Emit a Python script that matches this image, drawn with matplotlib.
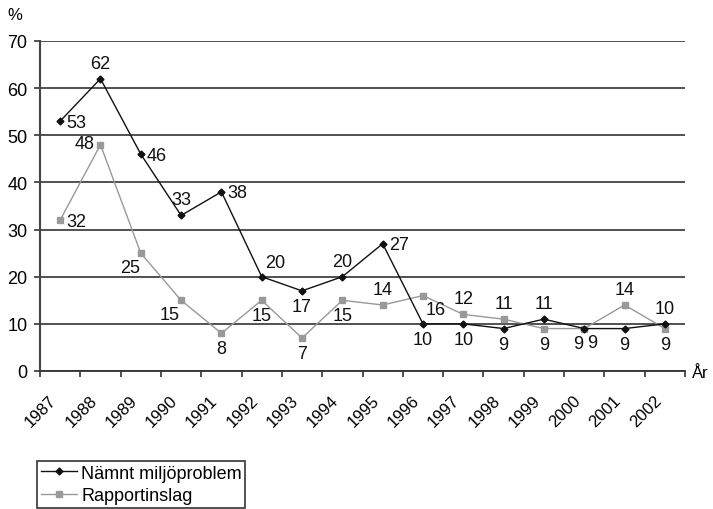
import numpy as np
import matplotlib.pyplot as plt
from matplotlib.transforms import ScaledTranslation

plt.rcParams['font.family'] = ['Liberation Sans', 'DejaVu Sans']

years = [str(y) for y in range(1987, 2003)]
miljo = [53, 62, 46, 33, 38, 20, 17, 20, 27, 10, 10, 9, 11, 9, 9, 10]
rapport = [32, 48, 25, 15, 8, 15, 7, 15, 14, 16, 12, 11, 9, 9, 14, 9]
y_ticks = [0, 10, 20, 30, 40, 50, 60, 70]

# where each value label sits relative to its marker
miljo_pos = ['r', 'a', 'r', 'a', 'r', 'ar', 'b', 'a', 'r', 'b', 'b', 'b', 'a', 'br', 'b', 'a']
rapport_pos = ['r', 'l', 'bl', 'bl', 'b', 'b', 'b', 'b', 'a', 'br', 'a', 'a', 'b', 'bl', 'a', 'b']

offsets = {
    'r': (6, -1, 'left', 'center'),
    'l': (-6, 1, 'right', 'center'),
    'a': (0, 7, 'center', 'bottom'),
    'b': (0, -7, 'center', 'top'),
    'ar': (3, 6, 'left', 'bottom'),
    'bl': (-1, -6, 'right', 'top'),
    'br': (3, -5, 'left', 'top'),
}

fig = plt.figure(figsize=(7.13, 5.10), dpi=100)
ax = fig.add_axes([40 / 713, 1 - 372 / 510, 645 / 713, 330 / 510])

x = np.arange(len(years)) + 0.5

ax.plot(x, miljo, color='#111111', lw=1.0, marker='D', ms=3.5,
        label='Nämnt miljöproblem', zorder=4)
ax.plot(x, rapport, color='#999999', lw=1.0, marker='s', ms=5,
        mfc='#999999', mec='#999999', label='Rapportinslag', zorder=3)


def put_labels(vals, pos):
    for xi, v, p in zip(x, vals, pos):
        dx, dy, ha, va = offsets[p]
        ax.annotate(str(v), (xi, v), xytext=(dx, dy), textcoords='offset pixels',
                    ha=ha, va=va, fontsize=13, color='#111111', zorder=5)


put_labels(miljo, miljo_pos)
put_labels(rapport, rapport_pos)

ax.set_xlim(0, len(years))
ax.set_ylim(0, 70)
ax.set_yticks(y_ticks)
ax.tick_params(axis='y', labelsize=13, length=4, width=1.2, color='#333333', pad=5)
ax.yaxis.grid(True, color='#222222', lw=1.1)
ax.set_axisbelow(True)

ax.set_xticks(x)
ax.set_xticklabels(years, rotation=45, ha='right', va='center',
                   rotation_mode='anchor', fontsize=12)
ax.set_xticks(np.arange(len(years) + 1), minor=True)
ax.tick_params(axis='x', which='major', length=0, pad=19)
ax.tick_params(axis='x', which='minor', length=4, width=1.2, color='#333333')
shift = ScaledTranslation(-6 / 100, 0, fig.dpi_scale_trans)
for lab in ax.get_xticklabels():
    lab.set_transform(lab.get_transform() + shift)

for s in ['top', 'right']:
    ax.spines[s].set_visible(False)
ax.spines['left'].set_color('#444444')
ax.spines['left'].set_linewidth(1.5)
ax.spines['bottom'].set_color('#333333')
ax.spines['bottom'].set_linewidth(1.3)

fig.text(15 / 713, 1 - 16 / 510, '%', fontsize=12, ha='center', va='center')
fig.text(692 / 713, 1 - 374 / 510, 'År', fontsize=12, ha='left', va='center')

leg = fig.legend(loc='upper left', bbox_to_anchor=(37 / 713, 1 - 462 / 510),
                 fontsize=13, frameon=True, fancybox=False, edgecolor='black',
                 borderpad=0.2, labelspacing=0.3, handlelength=2.0,
                 handletextpad=0.25, borderaxespad=0)
leg.get_frame().set_linewidth(1.2)

fig.savefig('out.png', dpi=100)
plt.close()
